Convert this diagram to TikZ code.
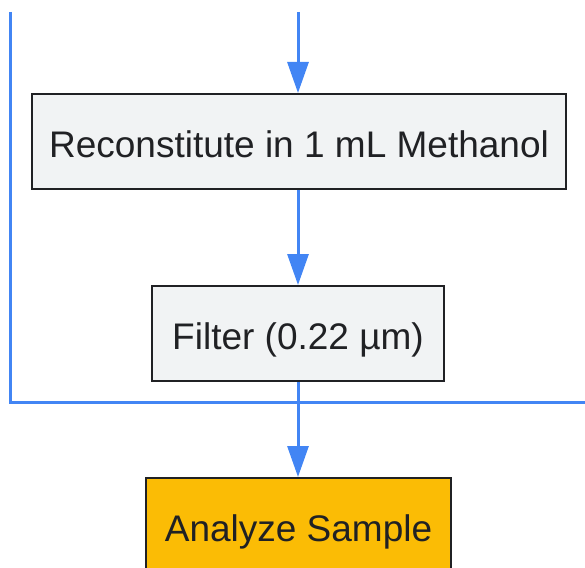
\documentclass[tikz,border=0pt]{standalone}
\usepackage{fontspec}
\setmainfont{Liberation Sans}
\usetikzlibrary{arrows.meta}
\definecolor{flowblue}{HTML}{4285F4}
\definecolor{boxgray}{HTML}{F1F3F4}
\definecolor{boxline}{HTML}{202124}
\definecolor{orangefill}{HTML}{FBBC05}
\begin{document}
\begin{tikzpicture}[x=1pt,y=-1pt,
  procbox/.style={draw=boxline, line width=2pt, fill=boxgray, text=boxline,
    minimum height=95pt, inner sep=0pt, text height=31pt, text depth=0pt,
    font=\fontsize{37}{44}\selectfont},
  endbox/.style={procbox, fill=orangefill},
  flow/.style={draw=flowblue, line width=3pt,
    -{Triangle[width=21pt,length=31pt]}},
  cluster/.style={draw=flowblue, line width=3pt}]
\useasboundingbox (0,0) rectangle (585,567);
\coordinate (top) at (298,12);
\node[procbox, minimum width=534pt] (recon) at (299,141.5) {Reconstitute in 1 mL Methanol};
\node[procbox, minimum width=292pt] (filter) at (298,333.5) {Filter (0.22 µm)};
\node[endbox, minimum width=305pt] (analyze) at (298.5,525.5) {Analyze Sample};
\draw[cluster] (10,12) -- (10,402) -- (590,402);
\draw[flow] (top) -- (recon.north -| top);
\draw[flow] (recon.south -| top) -- (filter.north -| top);
\draw[flow] (filter.south -| top) -- (analyze.north -| top);
\end{tikzpicture}
\end{document}
